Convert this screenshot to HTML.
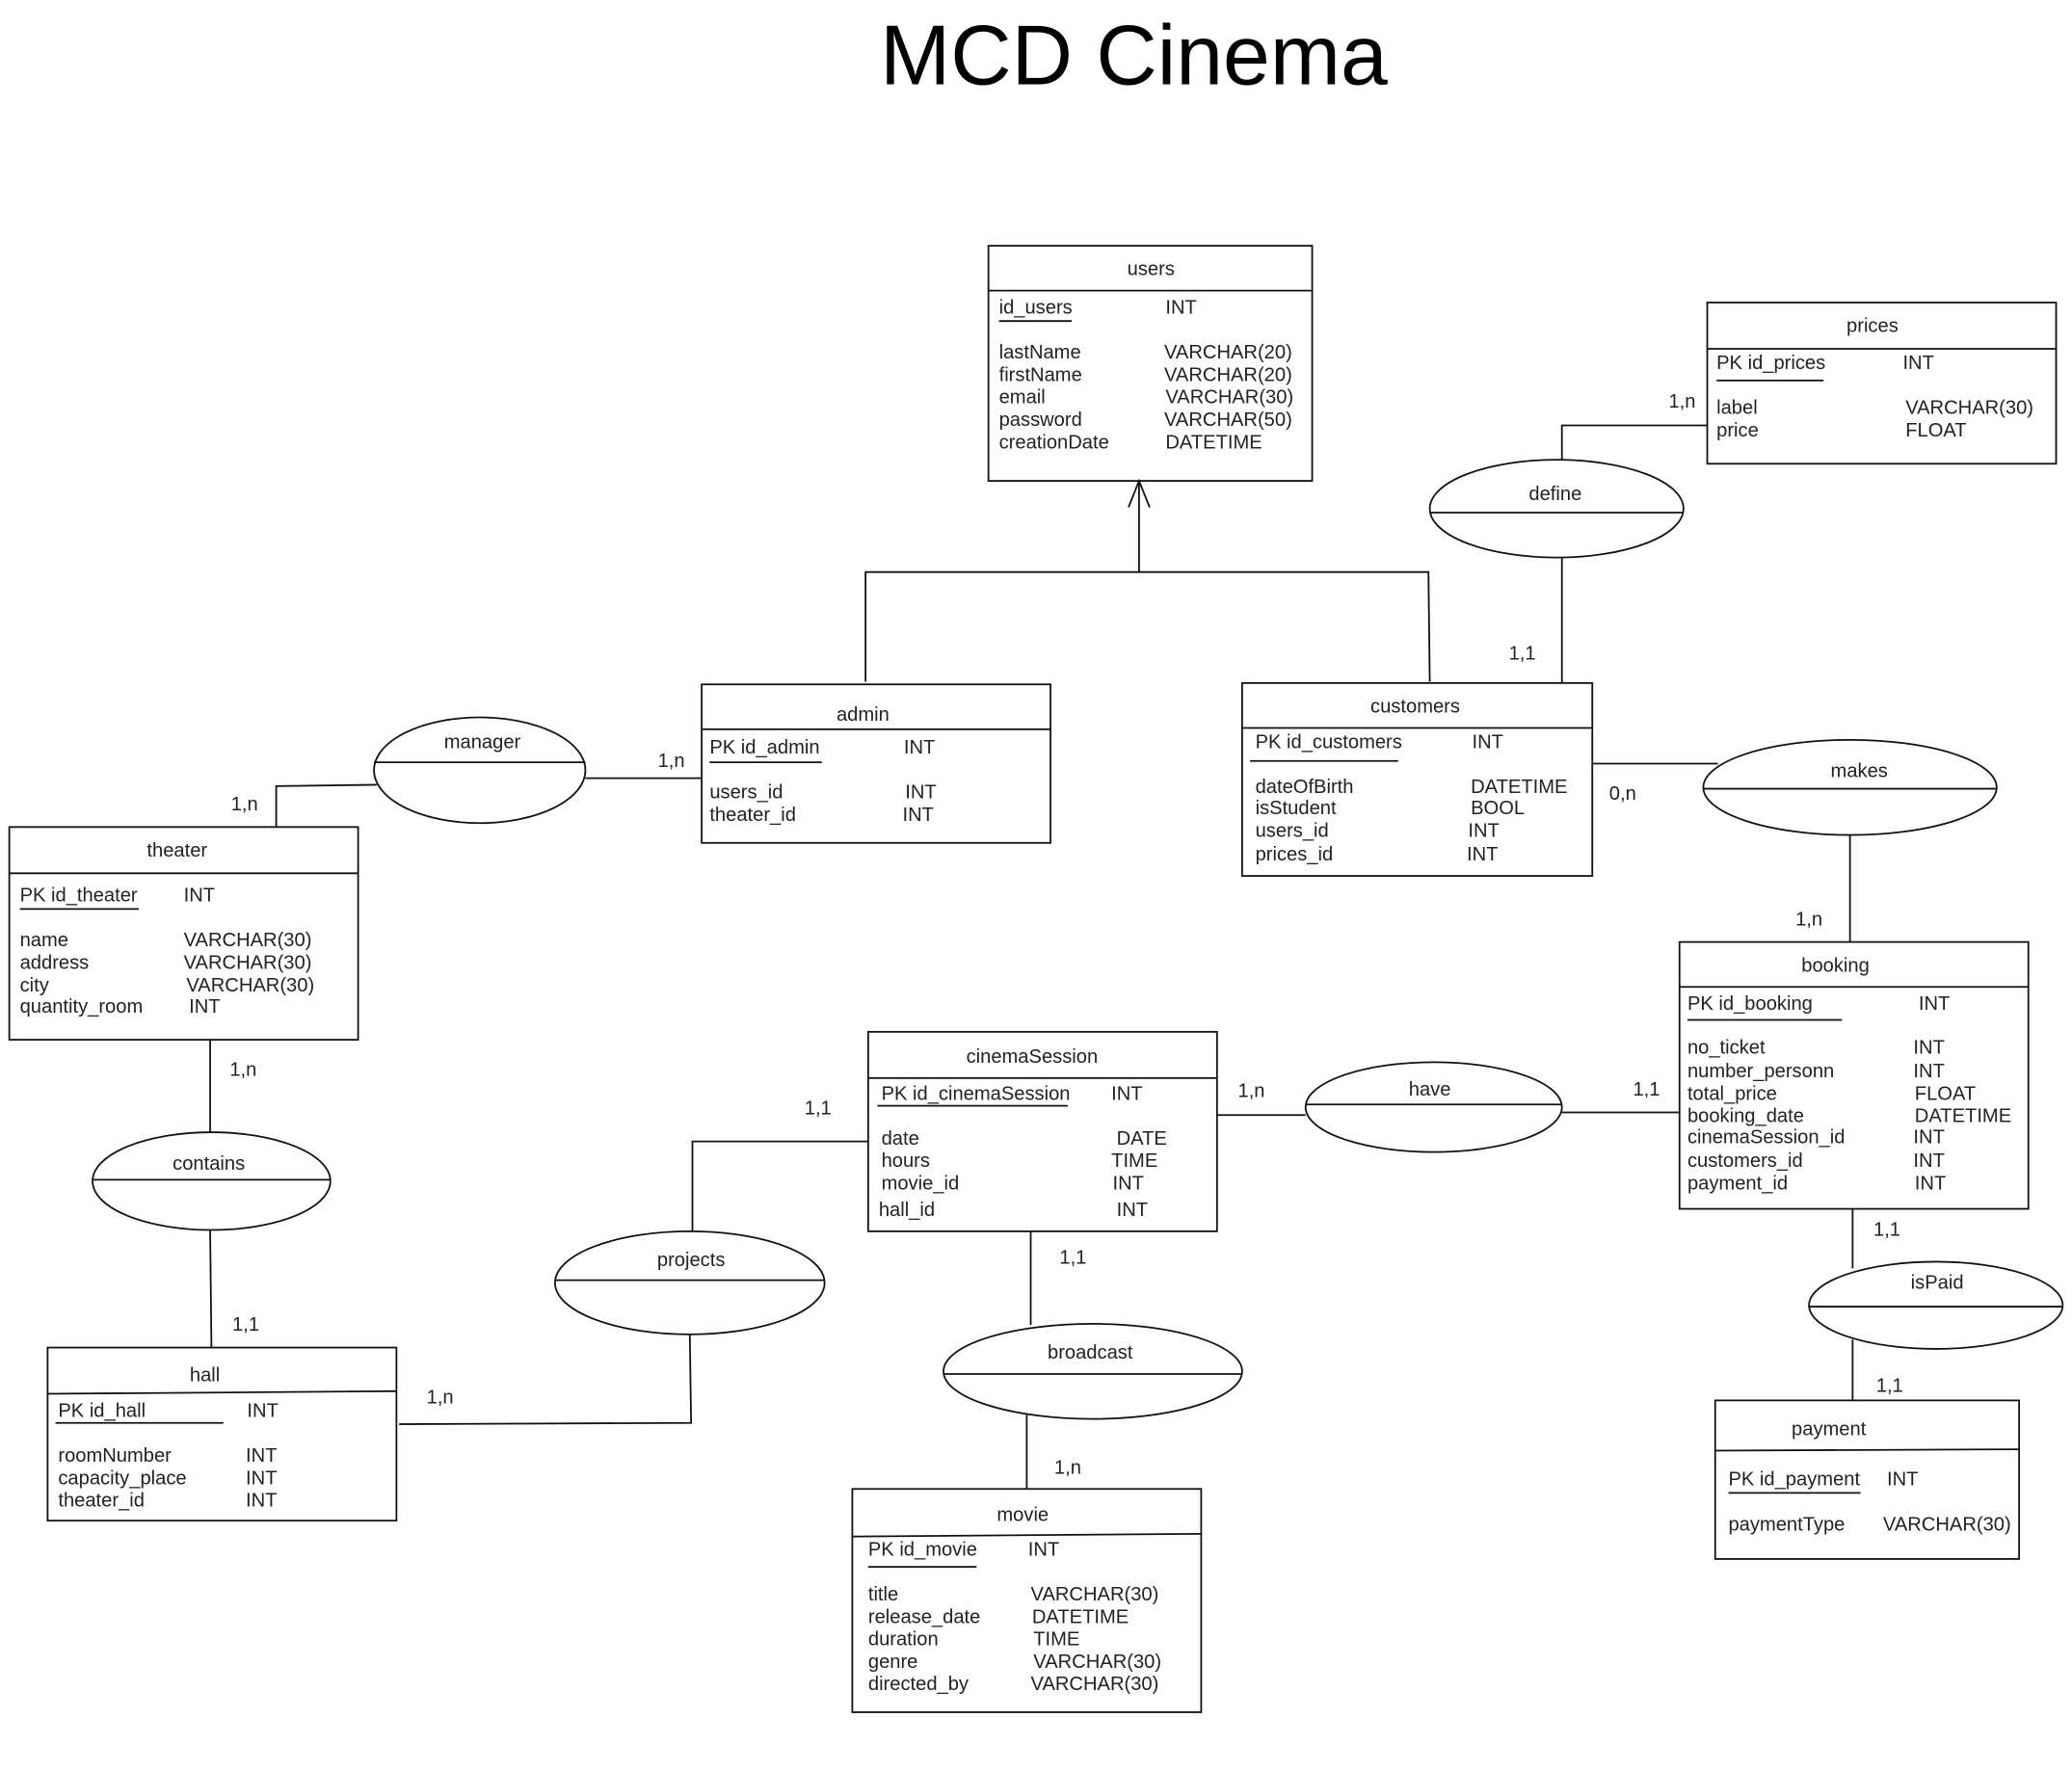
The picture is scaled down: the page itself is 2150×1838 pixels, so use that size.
<!DOCTYPE html>
<html><head><meta charset="utf-8"><style>
html,body{margin:0;padding:0;background:#fff;}
svg{display:block;}
text{font-family:"Liberation Sans",Arial,sans-serif;font-size:14.7px;fill:#222;dominant-baseline:middle;}
.c{text-anchor:middle;}
</style></head><body>
<svg width="2150" height="1838" viewBox="0 0 1568 1340.5" xmlns="http://www.w3.org/2000/svg">
<rect x="0" y="0" width="1568" height="1341" fill="#fff"/>
<g fill="none" stroke="#111" stroke-width="1.3">
<rect x="748" y="186" width="245" height="178"/><line x1="748" y1="220" x2="993" y2="220"/>
<rect x="1292" y="229" width="264" height="122"/><line x1="1292" y1="264" x2="1556" y2="264"/>
<rect x="531" y="518" width="264" height="120"/><line x1="531" y1="552" x2="795" y2="552"/>
<rect x="940" y="517" width="265" height="146"/><line x1="940" y1="551" x2="1205" y2="551"/>
<rect x="7" y="626" width="264" height="161"/><line x1="7" y1="661" x2="271" y2="661"/>
<rect x="1271" y="713" width="264" height="202"/><line x1="1271" y1="747" x2="1535" y2="747"/>
<rect x="657" y="781" width="264" height="151"/><line x1="657" y1="816" x2="921" y2="816"/>
<rect x="36" y="1020" width="264" height="131"/><line x1="36" y1="1055" x2="300" y2="1053"/>
<rect x="645" y="1127" width="264" height="169"/><line x1="645" y1="1163" x2="909" y2="1161"/>
<rect x="1298" y="1060" width="230" height="120"/><line x1="1298" y1="1098" x2="1528" y2="1097"/>
<line x1="756" y1="243" x2="811" y2="243"/>
<line x1="1299" y1="288" x2="1380" y2="288"/>
<line x1="537" y1="577" x2="622" y2="577"/>
<line x1="946" y1="576" x2="1058" y2="576"/>
<line x1="15" y1="688" x2="105" y2="688"/>
<line x1="1277" y1="772" x2="1394" y2="772"/>
<line x1="664" y1="837" x2="808" y2="837"/>
<line x1="42" y1="1077" x2="169" y2="1077"/>
<line x1="657" y1="1186" x2="739" y2="1186"/>
<line x1="1308" y1="1130" x2="1408" y2="1130"/>
<ellipse cx="1178" cy="385" rx="96" ry="37"/><line x1="1082" y1="388" x2="1274" y2="388"/>
<ellipse cx="363" cy="583" rx="80" ry="40"/><line x1="283" y1="577" x2="443" y2="577"/>
<ellipse cx="1400" cy="596" rx="111" ry="36"/><line x1="1289" y1="597" x2="1511" y2="597"/>
<ellipse cx="160" cy="894" rx="90" ry="37"/><line x1="70" y1="893" x2="250" y2="893"/>
<ellipse cx="522" cy="971" rx="102" ry="39"/><line x1="420" y1="969" x2="624" y2="969"/>
<ellipse cx="1085" cy="838" rx="97" ry="34"/><line x1="988" y1="836" x2="1182" y2="836"/>
<ellipse cx="827" cy="1038" rx="113" ry="36"/><line x1="714" y1="1040" x2="940" y2="1040"/>
<ellipse cx="1465" cy="988" rx="96" ry="33"/><line x1="1369" y1="989" x2="1561" y2="989"/>
<polyline points="862,364 862,433"/><polyline points="655,516 655,433 1081,433 1082,516"/>
<polyline points="854,384 862,364 870,384"/>
<polyline points="1292,322 1182,322 1182,348"/><line x1="1182" y1="422" x2="1182" y2="517"/>
<line x1="443" y1="589" x2="531" y2="589"/><polyline points="285,594 209,595 209,626"/>
<line x1="1205" y1="578" x2="1300" y2="578"/><line x1="1400" y1="632" x2="1400" y2="713"/>
<line x1="159" y1="787" x2="159" y2="857"/><line x1="159" y1="931" x2="160" y2="1020"/>
<polyline points="657,864 524,864 524,932"/><polyline points="522,1010 523,1077 302,1078"/>
<line x1="921" y1="844" x2="988" y2="844"/><line x1="1182" y1="842" x2="1271" y2="842"/>
<line x1="780" y1="932" x2="780" y2="1003"/><line x1="777" y1="1071" x2="777" y2="1127"/>
<line x1="1402" y1="915" x2="1402" y2="960"/><line x1="1402" y1="1014" x2="1402" y2="1060"/>
</g>
<text x="858" y="47" class="c" style="font-size:64px;fill:#000">MCD Cinema</text>
<g transform="translate(0,1.5)">
<text x="871" y="203" class="c">users</text>
<text x="756" y="232">id_users</text><text x="882" y="232">INT</text>
<text x="756" y="266">lastName</text><text x="881" y="266">VARCHAR(20)</text>
<text x="756" y="283">firstName</text><text x="881" y="283">VARCHAR(20)</text>
<text x="756" y="300">email</text><text x="882" y="300">VARCHAR(30)</text>
<text x="756" y="317">password</text><text x="881" y="317">VARCHAR(50)</text>
<text x="756" y="334">creationDate</text><text x="882" y="334">DATETIME</text>
<text x="1417" y="246" class="c">prices</text>
<text x="1299" y="274">PK id_prices</text><text x="1440" y="274">INT</text>
<text x="1299" y="308">label</text><text x="1442" y="308">VARCHAR(30)</text>
<text x="1299" y="325">price</text><text x="1442" y="325">FLOAT</text>
<text x="653" y="540" class="c">admin</text>
<text x="537" y="565">PK id_admin</text><text x="684" y="565">INT</text>
<text x="537" y="599">users_id</text><text x="685" y="599">INT</text>
<text x="537" y="616">theater_id</text><text x="683" y="616">INT</text>
<text x="1071" y="534" class="c">customers</text>
<text x="950" y="561">PK id_customers</text><text x="1114" y="561">INT</text>
<text x="950" y="595">dateOfBirth</text><text x="1113" y="595">DATETIME</text>
<text x="950" y="611">isStudent</text><text x="1113" y="611">BOOL</text>
<text x="950" y="628">users_id</text><text x="1111" y="628">INT</text>
<text x="950" y="646">prices_id</text><text x="1110" y="646">INT</text>
<text x="134" y="643" class="c">theater</text>
<text x="15" y="677">PK id_theater</text><text x="139" y="677">INT</text>
<text x="15" y="711">name</text><text x="139" y="711">VARCHAR(30)</text>
<text x="15" y="728">address</text><text x="139" y="728">VARCHAR(30)</text>
<text x="15" y="745">city</text><text x="141" y="745">VARCHAR(30)</text>
<text x="15" y="761">quantity_room</text><text x="143" y="761">INT</text>
<text x="1389" y="730" class="c">booking</text>
<text x="1277" y="759">PK id_booking</text><text x="1452" y="759">INT</text>
<text x="1277" y="792">no_ticket</text><text x="1448" y="792">INT</text>
<text x="1277" y="810">number_personn</text><text x="1448" y="810">INT</text>
<text x="1277" y="827">total_price</text><text x="1449" y="827">FLOAT</text>
<text x="1277" y="844">booking_date</text><text x="1449" y="844">DATETIME</text>
<text x="1277" y="860">cinemaSession_id</text><text x="1448" y="860">INT</text>
<text x="1277" y="878">customers_id</text><text x="1448" y="878">INT</text>
<text x="1277" y="895">payment_id</text><text x="1449" y="895">INT</text>
<text x="781" y="799" class="c">cinemaSession</text>
<text x="667" y="827">PK id_cinemaSession</text><text x="841" y="827">INT</text>
<text x="667" y="861">date</text><text x="845" y="861">DATE</text>
<text x="667" y="878">hours</text><text x="841" y="878">TIME</text>
<text x="667" y="895">movie_id</text><text x="842" y="895">INT</text>
<text x="665" y="915">hall_id</text><text x="845" y="915">INT</text>
<text x="155" y="1040" class="c">hall</text>
<text x="44" y="1067">PK id_hall</text><text x="187" y="1067">INT</text>
<text x="44" y="1101">roomNumber</text><text x="186" y="1101">INT</text>
<text x="44" y="1118">capacity_place</text><text x="186" y="1118">INT</text>
<text x="44" y="1135">theater_id</text><text x="186" y="1135">INT</text>
<text x="774" y="1146" class="c">movie</text>
<text x="657" y="1172">PK id_movie</text><text x="778" y="1172">INT</text>
<text x="657" y="1206">title</text><text x="780" y="1206">VARCHAR(30)</text>
<text x="657" y="1223">release_date</text><text x="781" y="1223">DATETIME</text>
<text x="657" y="1240">duration</text><text x="782" y="1240">TIME</text>
<text x="657" y="1257">genre</text><text x="782" y="1257">VARCHAR(30)</text>
<text x="657" y="1274">directed_by</text><text x="780" y="1274">VARCHAR(30)</text>
<text x="1384" y="1081" class="c">payment</text>
<text x="1308" y="1119">PK id_payment</text><text x="1428" y="1119">INT</text>
<text x="1308" y="1153">paymentType</text><text x="1425" y="1153">VARCHAR(30)</text>
<text x="1177" y="373" class="c">define</text>
<text x="365" y="561" class="c">manager</text>
<text x="1407" y="583" class="c">makes</text>
<text x="158" y="880" class="c">contains</text>
<text x="523" y="953" class="c">projects</text>
<text x="1082" y="824" class="c">have</text>
<text x="825" y="1023" class="c">broadcast</text>
<text x="1466" y="970" class="c">isPaid</text>
<text x="1273" y="303" class="c">1,n</text>
<text x="1152" y="494" class="c">1,1</text>
<text x="508" y="575" class="c">1,n</text>
<text x="185" y="608" class="c">1,n</text>
<text x="1228" y="600" class="c">0,n</text>
<text x="1369" y="695" class="c">1,n</text>
<text x="184" y="809" class="c">1,n</text>
<text x="186" y="1002" class="c">1,1</text>
<text x="619" y="838" class="c">1,1</text>
<text x="333" y="1057" class="c">1,n</text>
<text x="947" y="825" class="c">1,n</text>
<text x="1246" y="824" class="c">1,1</text>
<text x="812" y="951" class="c">1,1</text>
<text x="808" y="1110" class="c">1,n</text>
<text x="1428" y="930" class="c">1,1</text>
<text x="1430" y="1048" class="c">1,1</text>
</g>
</svg>
</body></html>
